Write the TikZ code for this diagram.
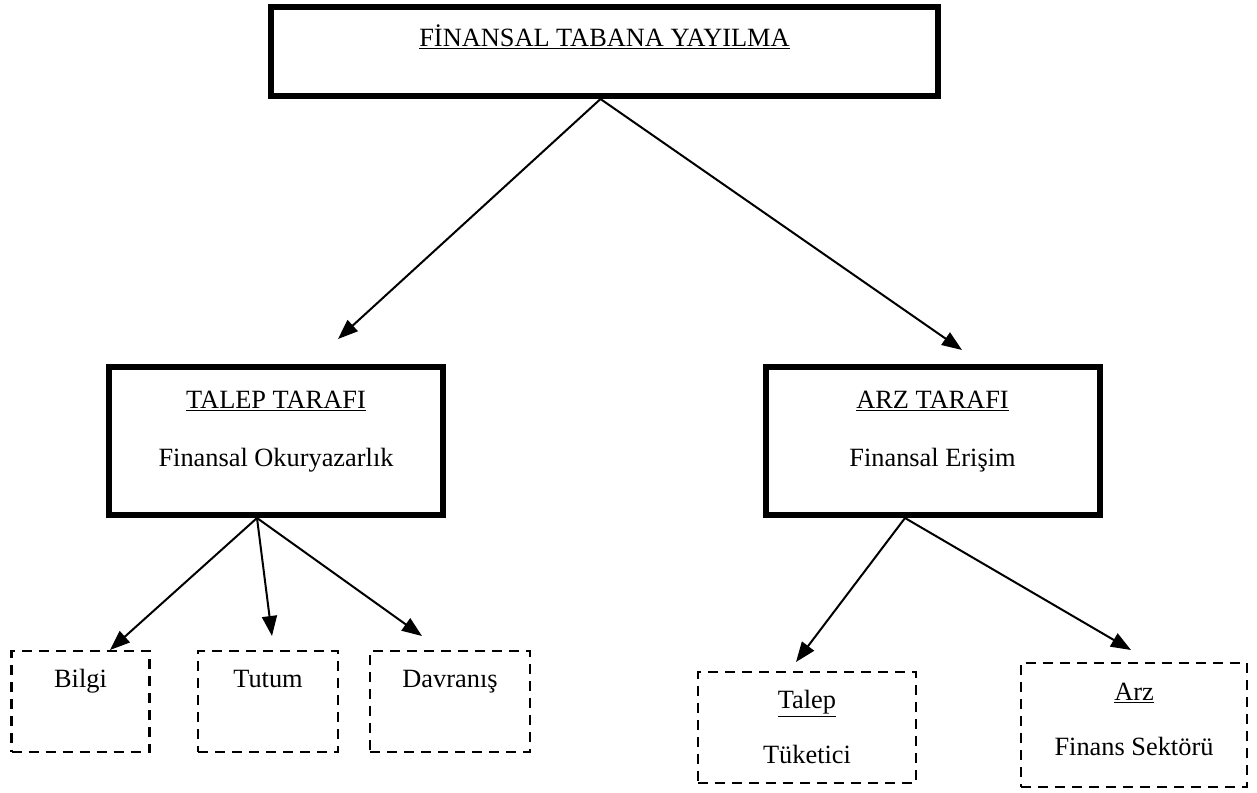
\documentclass[tikz,border=0pt]{standalone}
\usepackage{fontspec}
\setmainfont{Liberation Serif}
\usetikzlibrary{arrows.meta}

\begin{document}
\begin{tikzpicture}[
        kalin/.style={draw, line width=0.12cm, rectangle},
        kesikli/.style={draw, line width=0.05cm, dash pattern=on 0.2cm off 0.14cm, rectangle},
        yazi/.style={anchor=base, font=\fontsize{15}{18}\selectfont},
        ok/.style={line width=0.04cm, -{Triangle[length=0.4cm,width=0.3cm]}}
    ]
        \useasboundingbox (0,0) rectangle (25.14,-15.84);

        % Top box
        \node[kalin, minimum width=13.34cm, minimum height=1.78cm] (ana) at (12.09,-1.03) {};
        \node[yazi] (anayazi) at (12.09,-0.92) {\underline{FİNANSAL TABANA YAYILMA}};

        % Demand and supply sides
        \node[kalin, minimum width=6.68cm, minimum height=2.96cm] (talep) at (5.52,-8.82) {};
        \node[yazi] (talepust) at (5.52,-8.16) {\underline{TALEP TARAFI}};
        \node[yazi] (talepalt) at (5.52,-9.32) {Finansal Okuryazarlık};

        \node[kalin, minimum width=6.68cm, minimum height=2.96cm] (arz) at (18.65,-8.82) {};
        \node[yazi] (arzust) at (18.65,-8.16) {\underline{ARZ TARAFI}};
        \node[yazi] (arzalt) at (18.65,-9.32) {Finansal Erişim};

        % Lower boxes, left
        \node[kesikli, minimum width=2.76cm, minimum height=2.02cm] (bilgi) at (1.61,-14.03) {};
        \node[yazi] at (1.61,-13.74) {Bilgi};
        \node[kesikli, minimum width=2.80cm, minimum height=2.02cm] (tutum) at (5.36,-14.03) {};
        \node[yazi] at (5.36,-13.74) {Tutum};
        \node[kesikli, minimum width=3.2cm, minimum height=2.02cm] (davranis) at (9.0,-14.03) {};
        \node[yazi] at (9.0,-13.74) {Davranış};

        % Lower boxes, right
        \node[kesikli, minimum width=4.36cm, minimum height=2.22cm] (tuketici) at (16.14,-14.55) {};
        \node[yazi] at (16.14,-14.16) {\underline{Talep}};
        \node[yazi] at (16.14,-15.26) {Tüketici};
        \node[kesikli, minimum width=4.52cm, minimum height=2.48cm] (sektor) at (22.68,-14.5) {};
        \node[yazi] at (22.68,-14.0) {\underline{Arz}};
        \node[yazi] at (22.68,-15.1) {Finans Sektörü};

        % Arrow tips
        \coordinate (u1) at (6.76,-6.78);
        \coordinate (u2) at (19.24,-7.0);
        \coordinate (b1) at (2.2,-13.0);
        \coordinate (b2) at (5.44,-12.72);
        \coordinate (b3) at (8.44,-12.72);
        \coordinate (b4) at (15.92,-13.24);
        \coordinate (b5) at (22.62,-13.0);

        % Arrows
        \draw[ok] ([xshift=-0.08cm]ana.south) -- (u1);
        \draw[ok] ([xshift=-0.08cm]ana.south) -- (u2);
        \draw[ok] ([xshift=-0.38cm]talep.south) -- (b1);
        \draw[ok] ([xshift=-0.38cm]talep.south) -- (b2);
        \draw[ok] ([xshift=-0.38cm]talep.south) -- (b3);
        \draw[ok] ([xshift=-0.55cm]arz.south) -- (b4);
        \draw[ok] ([xshift=-0.55cm]arz.south) -- (b5);
    \end{tikzpicture}
\end{document}
